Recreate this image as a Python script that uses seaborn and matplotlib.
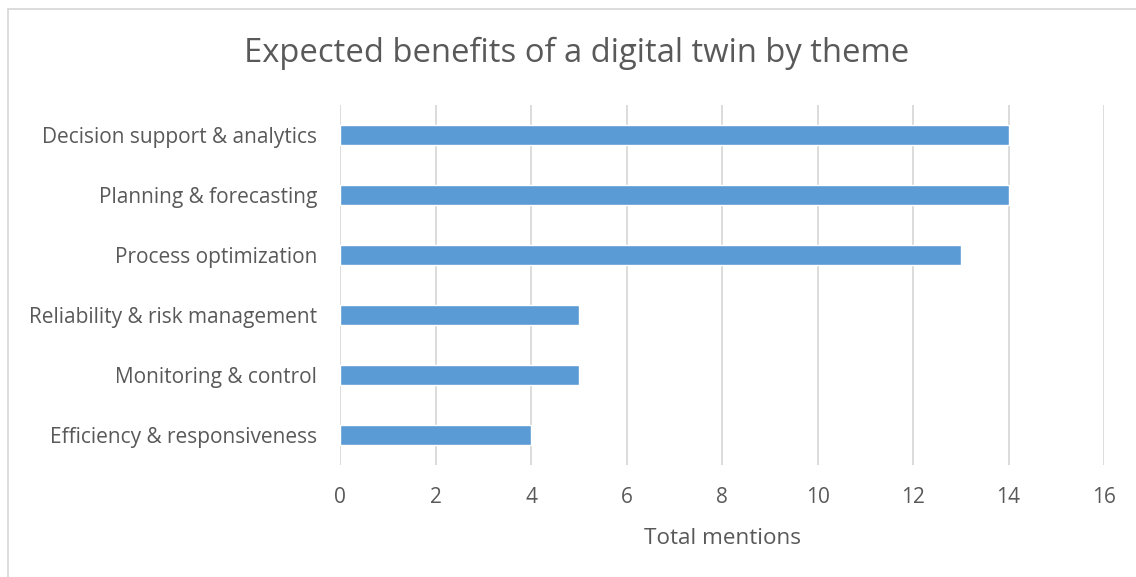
import matplotlib
matplotlib.use("Agg")
import matplotlib.pyplot as plt
from matplotlib.lines import Line2D
import seaborn as sns
import pandas as pd

themes = [
    "Decision support & analytics",
    "Planning & forecasting",
    "Process optimization",
    "Reliability & risk management",
    "Monitoring & control",
    "Efficiency & responsiveness",
]
mentions = [14, 14, 13, 5, 5, 4]
x_ticks = [0, 2, 4, 6, 8, 10, 12, 14, 16]

df = pd.DataFrame({"theme": themes, "mentions": mentions})

sns.set_theme(style="white")
plt.rcParams["font.family"] = ["Open Sans", "DejaVu Sans"]

text_color = "#595959"
grid_color = "#D9D9D9"
bar_color = "#5B9BD5"

fig = plt.figure(figsize=(11.36, 5.77), dpi=100)
ax = fig.add_axes([340 / 1136, 1 - 465 / 577, 764 / 1136, 360 / 577])

sns.barplot(data=df, x="mentions", y="theme", order=themes, color=bar_color,
            width=0.34, saturation=1, ax=ax, zorder=3)

ax.set_xlim(0, 16)
ax.set_ylim(5.5, -0.5)
ax.set_xticks(x_ticks)
ax.set_xticklabels([str(t) for t in x_ticks])
ax.xaxis.grid(True, color=grid_color, linewidth=1.3, zorder=0)
ax.yaxis.grid(False)
for s in ax.spines.values():
    s.set_visible(False)
ax.tick_params(axis="both", length=0, colors=text_color, labelsize=15)
ax.tick_params(axis="x", pad=15.5)
ax.tick_params(axis="y", pad=16.5)
ax.set_xlabel("Total mentions", color=text_color, fontsize=16.2, labelpad=14.5)
ax.set_ylabel("")

fig.text(577 / 1136, 1 - 53 / 577, "Expected benefits of a digital twin by theme",
         ha="center", va="center", color=text_color, fontsize=23.6)

# chart area border (top and left edges)
fig.add_artist(Line2D([8 / 1136, 1.0], [1 - 8.5 / 577, 1 - 8.5 / 577],
                      color=grid_color, linewidth=1.3, transform=fig.transFigure))
fig.add_artist(Line2D([8 / 1136, 8 / 1136], [0.0, 1 - 8.5 / 577],
                      color=grid_color, linewidth=1.3, transform=fig.transFigure))

fig.savefig("out.png", dpi=100, facecolor="white")
